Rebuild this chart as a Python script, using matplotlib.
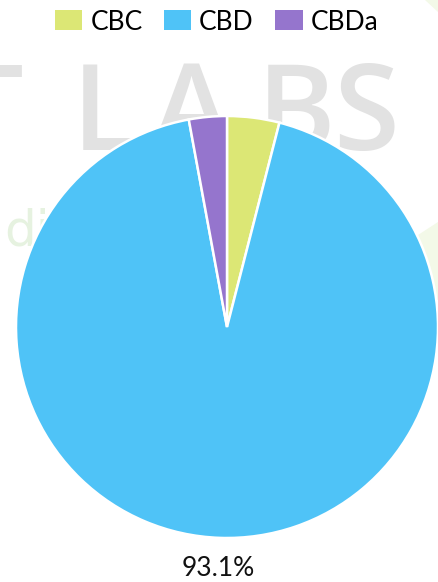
import numpy as np
import matplotlib.pyplot as plt
from matplotlib.patches import Patch, Polygon

labels = ['CBC', 'CBD', 'CBDa']
values = [4.0, 93.1, 2.9]
colors = ['#dce775', '#4fc3f7', '#9575cd']

plt.rcParams.update({
    'font.family': ['Lato', 'DejaVu Sans'],
})

W, H = 438, 582
fig = plt.figure(figsize=(W / 100, H / 100), dpi=100)

# watermark behind the chart
wm = dict(fontsize=86, color='#e2e2e2', va='baseline', ha='left',
          fontfamily='Open Sans', fontweight='semibold', zorder=-5)
for ch, x in [('T', -45), ('L', 72), ('A', 152), ('B', 257), ('S', 333)]:
    fig.text(x / W, 1 - 150 / H, ch, **wm)
fig.text(4 / W, 1 - 245 / H, 'di', fontsize=36, color='#e6f2e0',
         va='baseline', ha='left', fontfamily='DejaVu Sans', zorder=-5)
for pts in ([[418, 235], [438, 222], [438, 300], [430, 300]],
            [[425, 0], [438, 0], [438, 12]]):
    fig.patches.append(Polygon([[x / W, 1 - y / H] for x, y in pts],
                               closed=True, transform=fig.transFigure,
                               facecolor='#f3f9e8', edgecolor='none', zorder=-5))

cx, cy, r = 227, 327, 211
ax = fig.add_axes([(cx - r) / W, (H - cy - r) / H, 2 * r / W, 2 * r / H])
ax.set_zorder(2)
ax.patch.set_alpha(0)


def fmt(p):
    return f'{p:.1f}%' if p > 10 else ''


wedges, texts, autotexts = ax.pie(
    values, colors=colors, startangle=90, counterclock=False,
    autopct=fmt, pctdistance=1.145, radius=1.0,
    wedgeprops=dict(edgecolor='white', linewidth=1.8),
    textprops=dict(fontsize=19, color='#111111'))
ax.set_xlim(-1, 1)
ax.set_ylim(-1, 1)
ax.set_aspect('equal')
ax.axis('off')

handles = [Patch(facecolor=c, edgecolor='none') for c in colors]
fig.legend(handles, labels, loc='center', bbox_to_anchor=(216.5 / W, 1 - 22 / H),
           ncol=3, frameon=False, fontsize=19, handlelength=1.05,
           handleheight=0.8, handletextpad=0.3, columnspacing=0.8,
           borderpad=0, borderaxespad=0)

fig.savefig('out.png', dpi=100)
